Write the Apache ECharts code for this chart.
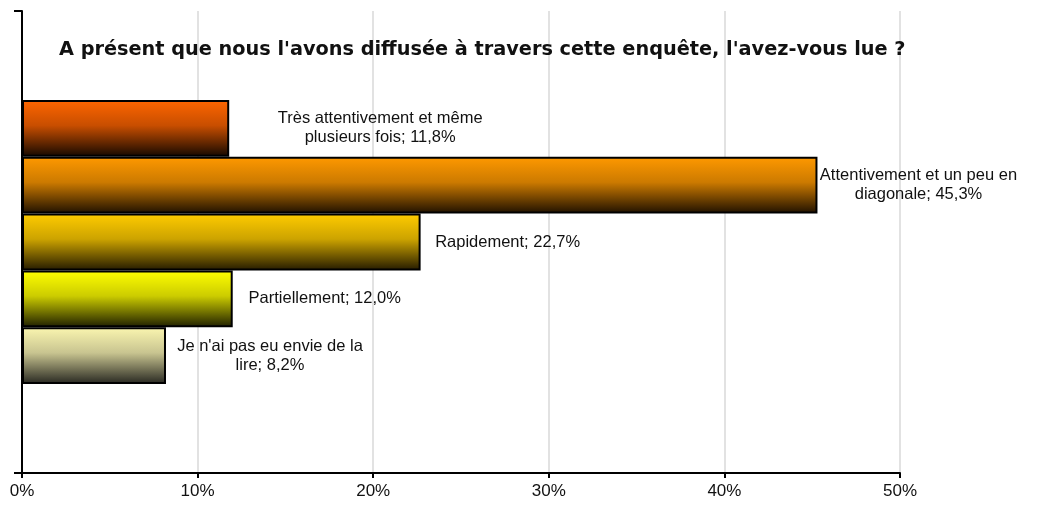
<!DOCTYPE html>
<html>
<head>
<meta charset="utf-8">
<script src="https://cdn.jsdelivr.net/npm/echarts@6/dist/echarts.min.js"></script>
<style>
  html, body { margin: 0; padding: 0; background: #fff; }
  #chart { width: 1037px; height: 507px; }
</style>
</head>
<body>
<div id="chart"></div>
<script>
// Answers and their shares (%)
const answers = [
  'Très attentivement et même\nplusieurs fois',
  'Attentivement et un peu en\ndiagonale',
  'Rapidement',
  'Partiellement',
  "Je n'ai pas eu envie de la\nlire"
];
const shares = [11.8, 45.3, 22.7, 12.0, 8.2];
// Bar fills: bright top, shaded middle, dark bottom
const topColors = ['#ff6600', '#ff9900', '#ffcc00', '#ffff00', '#fbf6b0'];
const midColors = ['#c84e00', '#cc7a00', '#cca300', '#cccc00', '#c8c490'];
const bottomColors = ['#140800', '#1e1000', '#241a00', '#1e1e00', '#262620'];
const labelDistance = [151, 101, 87, 92, 104];
const xTicks = [0, 10, 20, 30, 40, 50];

const fmt = v => v.toFixed(1).replace('.', ',') + '%';

const series = answers.map((name, i) => ({
  name: name,
  type: 'bar',
  data: [shares[i]],
  barGap: '0%',
  barCategoryGap: '38.5%',
  itemStyle: {
    borderColor: '#000',
    borderWidth: 2,
    color: new echarts.graphic.LinearGradient(0, 0, 0, 1, [
      { offset: 0, color: topColors[i] },
      { offset: 0.45, color: midColors[i] },
      { offset: 1, color: bottomColors[i] }
    ])
  },
  label: {
    show: true,
    position: 'right',
    align: 'center',
    distance: labelDistance[i],
    formatter: () => name + '; ' + fmt(shares[i]),
    fontFamily: 'Liberation Sans',
    fontSize: 16.5,
    lineHeight: 19,
    color: '#111'
  }
}));

const chart = echarts.init(document.getElementById('chart'));
chart.setOption({
  animation: false,
  title: {
    text: "A présent que nous l'avons diffusée à travers cette enquête, l'avez-vous lue ?",
    left: 54,
    top: 35,
    textStyle: {
      fontFamily: 'DejaVu Sans',
      fontWeight: 'bold',
      fontSize: 19.3,
      color: '#111'
    }
  },
  grid: { left: 22, right: 137, top: 11, bottom: 34 },
  xAxis: {
    type: 'value',
    min: xTicks[0],
    max: xTicks[xTicks.length - 1],
    interval: 10,
    axisLine: { show: true, lineStyle: { color: '#000', width: 2 } },
    axisTick: { show: true, length: 5, lineStyle: { color: '#000', width: 2 } },
    axisLabel: {
      formatter: v => v + '%',
      fontFamily: 'Liberation Sans',
      fontSize: 17,
      color: '#111',
      margin: 10
    },
    splitLine: { show: true, lineStyle: { color: '#d9d9d9', width: 1.5 } }
  },
  yAxis: {
    type: 'category',
    inverse: true,
    data: [''],
    axisLine: { show: true, lineStyle: { color: '#000', width: 2 } },
    axisTick: { show: true, length: 8, lineStyle: { color: '#000', width: 2 } },
    axisLabel: { show: false }
  },
  series: series
});
</script>
</body>
</html>
